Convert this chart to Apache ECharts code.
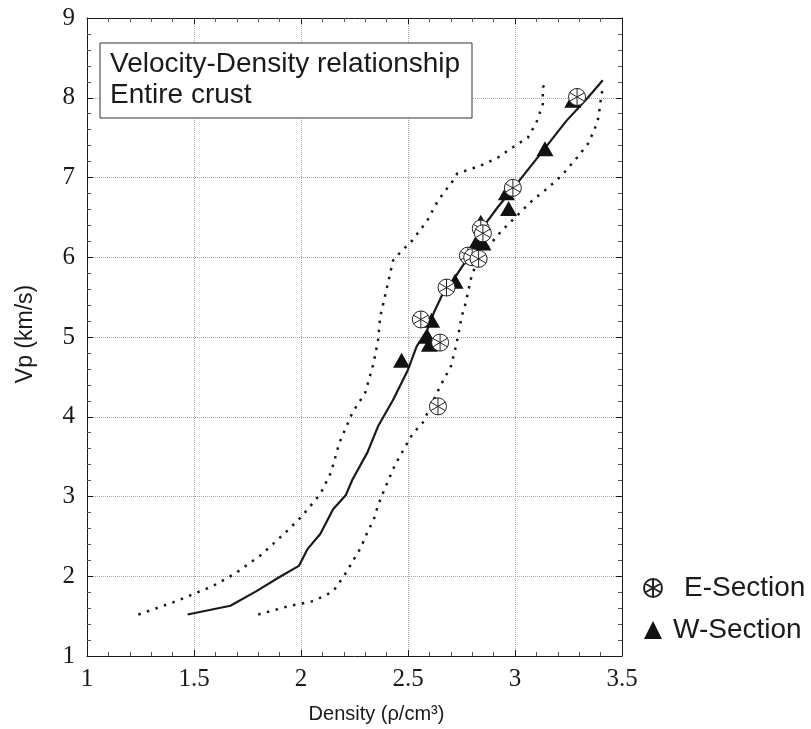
<!DOCTYPE html>
<html>
<head>
<meta charset="utf-8">
<script src="https://cdn.jsdelivr.net/npm/echarts@6/dist/echarts.min.js"></script>
<style>html,body{margin:0;padding:0;background:#fff;}#c{width:811px;height:729px;}</style>
</head>
<body>
<div id="c"></div>
<script>
// Solid regression line
const solidX = [1.47,1.67,1.79,1.90,1.99,2.03,2.09,2.15,2.21,2.24,2.31,2.36,2.43,2.50,2.54,2.59,2.62,2.66,2.71,2.77,2.84,2.92,3.02,3.12,3.24,3.34,3.41];
const solidY = [1.52,1.63,1.81,1.99,2.13,2.34,2.53,2.84,3.02,3.21,3.55,3.88,4.21,4.59,4.88,5.09,5.30,5.53,5.71,5.95,6.34,6.63,6.96,7.30,7.71,8.00,8.22];
// Upper (left) dotted bound
const upperX = [1.24,1.42,1.59,1.69,1.81,1.92,2.00,2.09,2.14,2.18,2.24,2.30,2.34,2.36,2.37,2.40,2.43,2.46,2.52,2.59,2.64,2.71,2.73,2.84,2.92,2.99,3.06,3.10,3.13,3.13,3.15];
const upperY = [1.52,1.69,1.88,2.03,2.26,2.53,2.74,3.03,3.30,3.68,4.05,4.30,4.68,4.96,5.25,5.60,5.96,6.05,6.21,6.46,6.71,6.96,7.05,7.15,7.25,7.38,7.50,7.69,7.92,8.13,8.21];
// Lower (right) dotted bound
const lowerX = [1.80,1.95,2.06,2.15,2.20,2.24,2.28,2.31,2.34,2.36,2.39,2.44,2.52,2.57,2.65,2.70,2.72,2.74,2.75,2.77,2.79,2.80,2.84,2.88,2.94,3.02,3.08,3.15,3.22,3.29,3.34,3.37,3.39,3.40,3.41];
const lowerY = [1.52,1.63,1.69,1.81,2.00,2.18,2.36,2.55,2.71,2.89,3.09,3.40,3.78,3.93,4.38,4.63,4.84,5.09,5.25,5.43,5.68,5.80,6.00,6.15,6.34,6.55,6.71,6.86,7.03,7.25,7.42,7.59,7.75,7.96,8.13];
// E-Section points
const eX = [3.29,2.99,2.84,2.85,2.78,2.80,2.83,2.68,2.56,2.65,2.64];
const eY = [8.01,6.87,6.36,6.30,6.02,6.00,5.98,5.62,5.22,4.93,4.13];
// W-Section points
const wX = [3.27,3.14,2.96,2.97,2.84,2.82,2.85,2.72,2.61,2.59,2.60,2.47];
const wY = [7.97,7.36,6.81,6.61,6.44,6.19,6.18,5.70,5.21,5.01,4.91,4.71];
// Axis settings
const xTicks = [1,1.5,2,2.5,3,3.5];
const yTicks = [1,2,3,4,5,6,7,8,9];
const titleLines = ['Velocity-Density relationship','Entire crust'];

const zip = (a,b) => a.map((v,i)=>[v,b[i]]);
const ePath = 'path://M0,-10A10,10,0,1,1,0,10A10,10,0,1,1,0,-10ZM0,-10L0,10M-8.66,-5L8.66,5M-8.66,5L8.66,-5';
const ink = '#1a1a1a';
const serif = '"Liberation Serif","DejaVu Serif",serif';
const sans = '"Liberation Sans",Arial,sans-serif';

const axisCommon = {
  axisLine:{show:true,lineStyle:{color:ink,width:1}},
  axisTick:{show:true,inside:true,length:6,lineStyle:{color:ink}},
  minorTick:{show:true,splitNumber:5,length:4,lineStyle:{color:'#555'}}
};

const chart = echarts.init(document.getElementById('c'),null,{renderer:'canvas'});
chart.setOption({
  animation:false,
  backgroundColor:'#fff',
  grid:{left:87,right:189,top:18,bottom:72},
  xAxis:[{
    type:'value',min:xTicks[0],max:xTicks[xTicks.length-1],interval:0.5,
    ...axisCommon,
    axisLabel:{fontFamily:serif,fontSize:25,color:ink,margin:11,formatter:v=>String(v)},
    splitLine:{show:true,lineStyle:{color:'#aaa',type:'dotted',width:1}},
    name:'Density (ρ/cm³)',nameLocation:'middle',nameGap:48,
    nameTextStyle:{fontFamily:sans,fontSize:20,color:ink,padding:[0,0,0,44]}
  },{
    type:'value',position:'top',min:xTicks[0],max:xTicks[xTicks.length-1],interval:0.5,
    ...axisCommon,axisLabel:{show:false},splitLine:{show:false}
  }],
  yAxis:[{
    type:'value',min:yTicks[0],max:yTicks[yTicks.length-1],interval:1,
    ...axisCommon,
    axisLabel:{fontFamily:serif,fontSize:25,color:ink,margin:12},
    splitLine:{show:true,lineStyle:{color:'#aaa',type:'dotted',width:1}},
    name:'Vp (km/s)',nameLocation:'middle',nameGap:50,nameRotate:90,
    nameTextStyle:{fontFamily:sans,fontSize:23,color:ink,padding:[0,0,0,6]}
  },{
    type:'value',position:'right',min:yTicks[0],max:yTicks[yTicks.length-1],interval:1,
    ...axisCommon,axisLabel:{show:false},splitLine:{show:false}
  }],
  legend:{
    orient:'vertical',left:638,top:569,itemGap:14,itemWidth:18,itemHeight:18,
    formatter:name => name === 'W-Section' ? '{w|' + name + '}' : '{e|' + name + '}',
    textStyle:{fontFamily:sans,fontSize:28,color:ink,
      rich:{
        e:{fontFamily:sans,fontSize:28,color:ink,padding:[0,0,0,17]},
        w:{fontFamily:sans,fontSize:28,color:ink,padding:[0,0,0,6]}
      }},
    data:[{name:'E-Section',icon:ePath},{name:'W-Section',icon:'triangle'}]
  },
  graphic:[{
    type:'rect',shape:{x:100,y:43,width:372,height:75},
    style:{fill:'#fff',stroke:'#333',lineWidth:1},z:10
  },{
    type:'text',x:110,y:50,style:{text:titleLines[0],font:'28px '+sans,fill:ink},z:11
  },{
    type:'text',x:110,y:81,style:{text:titleLines[1],font:'28px '+sans,fill:ink},z:11
  }],
  series:[{
    type:'line',data:zip(upperX,upperY),symbol:'none',silent:true,
    lineStyle:{color:ink,width:2.5,type:[2.5,6.5]},z:2
  },{
    type:'line',data:zip(lowerX,lowerY),symbol:'none',silent:true,
    lineStyle:{color:ink,width:2.5,type:[2.5,6.5]},z:2
  },{
    type:'line',data:zip(solidX,solidY),symbol:'none',silent:true,
    lineStyle:{color:ink,width:2.2},z:3
  },{
    name:'W-Section',type:'scatter',data:zip(wX,wY),symbol:'triangle',symbolSize:[17,15],
    itemStyle:{color:'#111',opacity:1},z:4
  },{
    name:'E-Section',type:'scatter',data:zip(eX,eY),symbol:ePath,symbolSize:17,
    itemStyle:{color:'#fff',borderColor:'#222',borderWidth:1,opacity:1},z:5
  }]
});
</script>
</body>
</html>
